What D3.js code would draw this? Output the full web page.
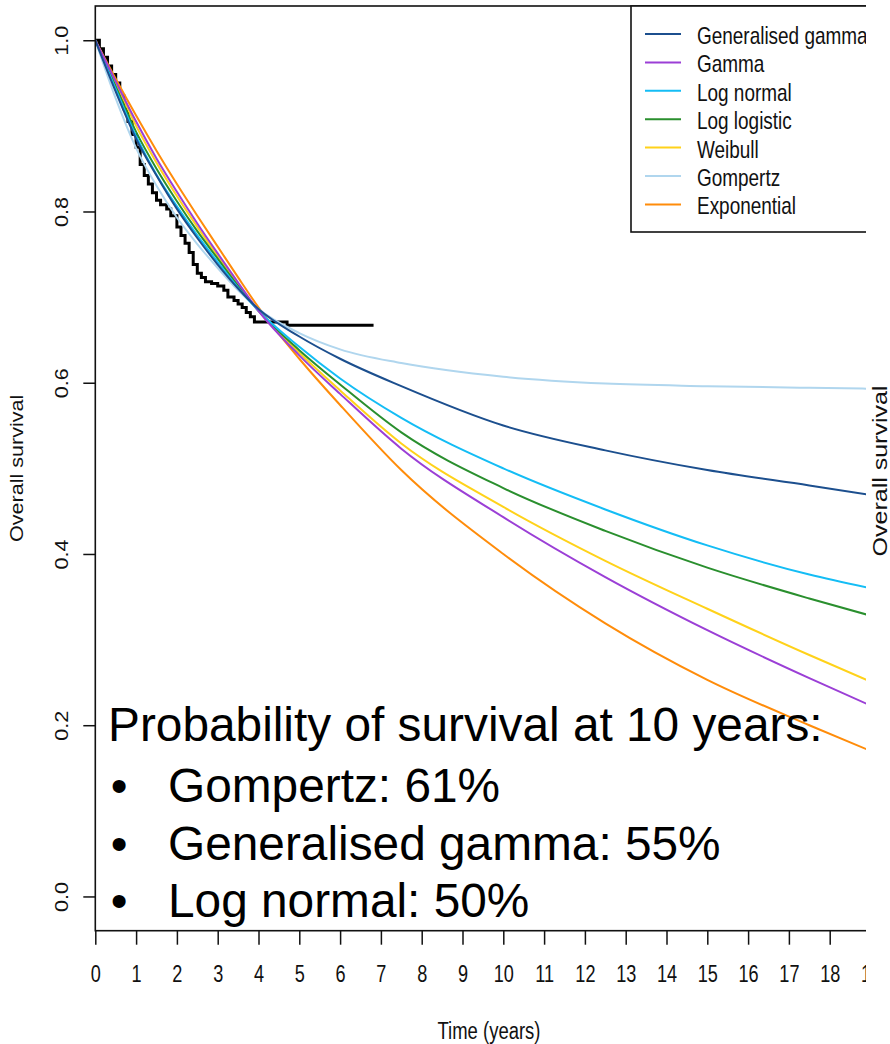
<!DOCTYPE html>
<html>
<head>
<meta charset="utf-8">
<script src="https://cdn.jsdelivr.net/npm/d3@7"></script>
<style>
  html, body { margin: 0; padding: 0; background: #fff; }
  svg { display: block; }
  .rtext { font-family: "Liberation Sans", Arial, sans-serif; fill: #111; }
  .note { font-family: "Liberation Sans", Arial, sans-serif; fill: #000; font-size: 47.8px; }
</style>
</head>
<body>
<svg id="chart" width="890" height="1044"></svg>
<script>
// ---- Data ---------------------------------------------------------------
// Time grid (years) for the fitted survival curves
const fitTimes = [0, 0.5, 1, 1.5, 2, 2.5, 3, 3.5, 4, 5, 6, 7.5, 10, 12.5, 15, 17.5, 19];

const genGamma    = [1, 0.940, 0.885, 0.842, 0.803, 0.769, 0.738, 0.710, 0.686, 0.654, 0.628, 0.596, 0.550, 0.521, 0.498, 0.480, 0.469];
const gammaFit    = [1, 0.952, 0.905, 0.862, 0.823, 0.786, 0.751, 0.717, 0.684, 0.632, 0.587, 0.523, 0.443, 0.373, 0.311, 0.255, 0.223];
const logNormal   = [1, 0.943, 0.888, 0.843, 0.806, 0.772, 0.741, 0.711, 0.684, 0.642, 0.605, 0.559, 0.500, 0.452, 0.410, 0.376, 0.360];
const logLogistic = [1, 0.946, 0.893, 0.850, 0.812, 0.777, 0.745, 0.713, 0.684, 0.638, 0.598, 0.542, 0.477, 0.427, 0.384, 0.348, 0.328];
const weibull     = [1, 0.950, 0.900, 0.857, 0.818, 0.782, 0.748, 0.715, 0.684, 0.635, 0.591, 0.529, 0.455, 0.392, 0.336, 0.282, 0.251];
const gompertz    = [1, 0.932, 0.874, 0.830, 0.793, 0.762, 0.734, 0.708, 0.686, 0.658, 0.639, 0.623, 0.607, 0.599, 0.596, 0.594, 0.593];
const exponential = [1, 0.955, 0.912, 0.871, 0.832, 0.795, 0.759, 0.723, 0.688, 0.628, 0.574, 0.498, 0.400, 0.319, 0.253, 0.200, 0.170];

// Kaplan-Meier estimate (step function)
const kmTimes = [0, 0.1, 0.2, 0.3, 0.4, 0.5, 0.6, 0.7, 0.8, 0.9, 1.0, 1.1, 1.2, 1.3, 1.4, 1.5, 1.6, 1.75, 1.85, 2.0, 2.1, 2.2, 2.3, 2.4, 2.5, 2.6, 2.7, 2.85, 3.0, 3.15, 3.25, 3.4, 3.5, 3.6, 3.7, 3.8, 3.9, 4.7, 6.82];
const kmSurv  = [1.0, 0.99, 0.98, 0.97, 0.96, 0.95, 0.935, 0.92, 0.905, 0.89, 0.875, 0.855, 0.842, 0.832, 0.822, 0.813, 0.808, 0.803, 0.795, 0.782, 0.772, 0.763, 0.752, 0.738, 0.728, 0.723, 0.718, 0.716, 0.713, 0.708, 0.700, 0.696, 0.692, 0.688, 0.682, 0.677, 0.671, 0.667, 0.667];

const modelNames  = ["Generalised gamma", "Gamma", "Log normal", "Log logistic", "Weibull", "Gompertz", "Exponential"];
const modelValues = [genGamma, gammaFit, logNormal, logLogistic, weibull, gompertz, exponential];
const modelColors = ["#1c4f8e", "#9b3fd6", "#14bdf5", "#2a8f2e", "#ffd21a", "#b0d6ee", "#ff8c0a"];

const xTicks = d3.range(0, 20);
const yTicks = [0, 0.2, 0.4, 0.6, 0.8, 1.0];

const noteLines = ["Gompertz: 61%", "Generalised gamma: 55%", "Log normal: 50%"];

// ---- Layout -------------------------------------------------------------
const svg = d3.select("#chart");
const plotLeft = 95.3, plotTop = 6, plotBottom = 930.7, visibleRight = 866;

const x = d3.scaleLinear().domain([0, 19.3]).range([plotLeft, plotLeft + 19.3 * 40.8]);
const y = d3.scaleLinear().domain([-0.04, 1.04]).range([plotBottom, plotTop]);

svg.append("defs").append("clipPath").attr("id", "plotClip")
  .append("rect").attr("x", plotLeft).attr("y", plotTop)
  .attr("width", visibleRight - plotLeft).attr("height", plotBottom - plotTop);

// ---- Curves -------------------------------------------------------------
const curves = svg.append("g").attr("clip-path", "url(#plotClip)");

const kmLine = d3.line().x(d => x(d[0])).y(d => y(d[1])).curve(d3.curveStepAfter);
curves.append("path")
  .datum(kmTimes.map((t, i) => [t, kmSurv[i]]))
  .attr("d", kmLine).attr("fill", "none").attr("stroke", "#000").attr("stroke-width", 3);

const fitLine = d3.line().x(d => x(d[0])).y(d => y(d[1])).curve(d3.curveMonotoneX);
// Draw in reverse so the generalised gamma curve sits on top
modelValues.map((vals, i) => ({ vals, i })).reverse().forEach(({ vals, i }) => {
  curves.append("path")
    .datum(fitTimes.map((t, k) => [t, vals[k]]))
    .attr("d", fitLine).attr("fill", "none")
    .attr("stroke", modelColors[i]).attr("stroke-width", 2);
});

// ---- Axes ---------------------------------------------------------------
const xAxis = svg.append("g").attr("class", "rtext")
  .attr("transform", `translate(0,${plotBottom})`)
  .call(d3.axisBottom(x).tickValues(xTicks).tickFormat(d3.format("d")).tickSize(14).tickSizeOuter(0));
xAxis.select(".domain").remove();
xAxis.selectAll(".tick line").attr("stroke", "#111").attr("stroke-width", 1.5);
xAxis.selectAll(".tick text")
  .attr("y", null).attr("dy", null)
  .attr("transform", "translate(0,51) scale(0.77,1)")
  .attr("font-size", 23.5).attr("fill", "#111");

const yAxis = svg.append("g").attr("class", "rtext")
  .attr("transform", `translate(${plotLeft},0)`)
  .call(d3.axisLeft(y).tickValues(yTicks).tickFormat(d3.format(".1f")).tickSize(12).tickSizeOuter(0));
yAxis.select(".domain").remove();
yAxis.selectAll(".tick line").attr("stroke", "#111").attr("stroke-width", 1.5);
yAxis.selectAll(".tick text")
  .attr("x", null).attr("dy", null)
  .attr("text-anchor", "middle")
  .attr("transform", "translate(-27,0) rotate(-90) scale(1.16,1)")
  .attr("font-size", 18.6).attr("fill", "#111");

// Plot frame
svg.append("rect")
  .attr("x", plotLeft).attr("y", plotTop)
  .attr("width", 900 - plotLeft).attr("height", plotBottom - plotTop)
  .attr("fill", "none").attr("stroke", "#111").attr("stroke-width", 1.6);

// Axis titles
svg.append("text").attr("class", "rtext")
  .attr("text-anchor", "middle").attr("font-size", 24)
  .attr("transform", "translate(489,1039) scale(0.77,1)")
  .text("Time (years)");
svg.append("text").attr("class", "rtext")
  .attr("text-anchor", "middle").attr("font-size", 18.6)
  .attr("transform", `translate(23,${(plotTop + plotBottom) / 2}) rotate(-90) scale(1.16,1)`)
  .text("Overall survival");

// ---- Legend -------------------------------------------------------------
const legend = svg.append("g");
legend.append("rect")
  .attr("x", 631).attr("y", plotTop).attr("width", 300).attr("height", 232 - plotTop)
  .attr("fill", "#fff").attr("stroke", "#111").attr("stroke-width", 1.6);
const rowY = i => 34 + i * 28.4;
modelNames.forEach((name, i) => {
  legend.append("line")
    .attr("x1", 645).attr("x2", 681).attr("y1", rowY(i)).attr("y2", rowY(i))
    .attr("stroke", modelColors[i]).attr("stroke-width", 2);
  legend.append("text").attr("class", "rtext")
    .attr("font-size", 24)
    .attr("transform", `translate(697,${rowY(i) + 10}) scale(0.79,1)`)
    .text(name);
});

// ---- Neighbouring panel edge -------------------------------------------
svg.append("rect").attr("x", visibleRight).attr("y", 0)
  .attr("width", 890 - visibleRight).attr("height", 1044).attr("fill", "#fff");
svg.append("text").attr("class", "rtext")
  .attr("text-anchor", "middle").attr("font-size", 20)
  .attr("transform", "translate(887,471) rotate(-90) scale(1.25,1)")
  .text("Overall survival");

// ---- Annotation ---------------------------------------------------------
svg.append("text").attr("class", "note")
  .attr("x", 108).attr("y", 741)
  .text("Probability of survival at 10 years:");
noteLines.forEach((line, i) => {
  const baseY = 802 + i * 57.5;
  svg.append("text").attr("class", "note")
    .attr("x", 119).attr("y", baseY).attr("text-anchor", "middle").text("•");
  svg.append("text").attr("class", "note")
    .attr("x", 168).attr("y", baseY).text(line);
});
</script>
</body>
</html>
